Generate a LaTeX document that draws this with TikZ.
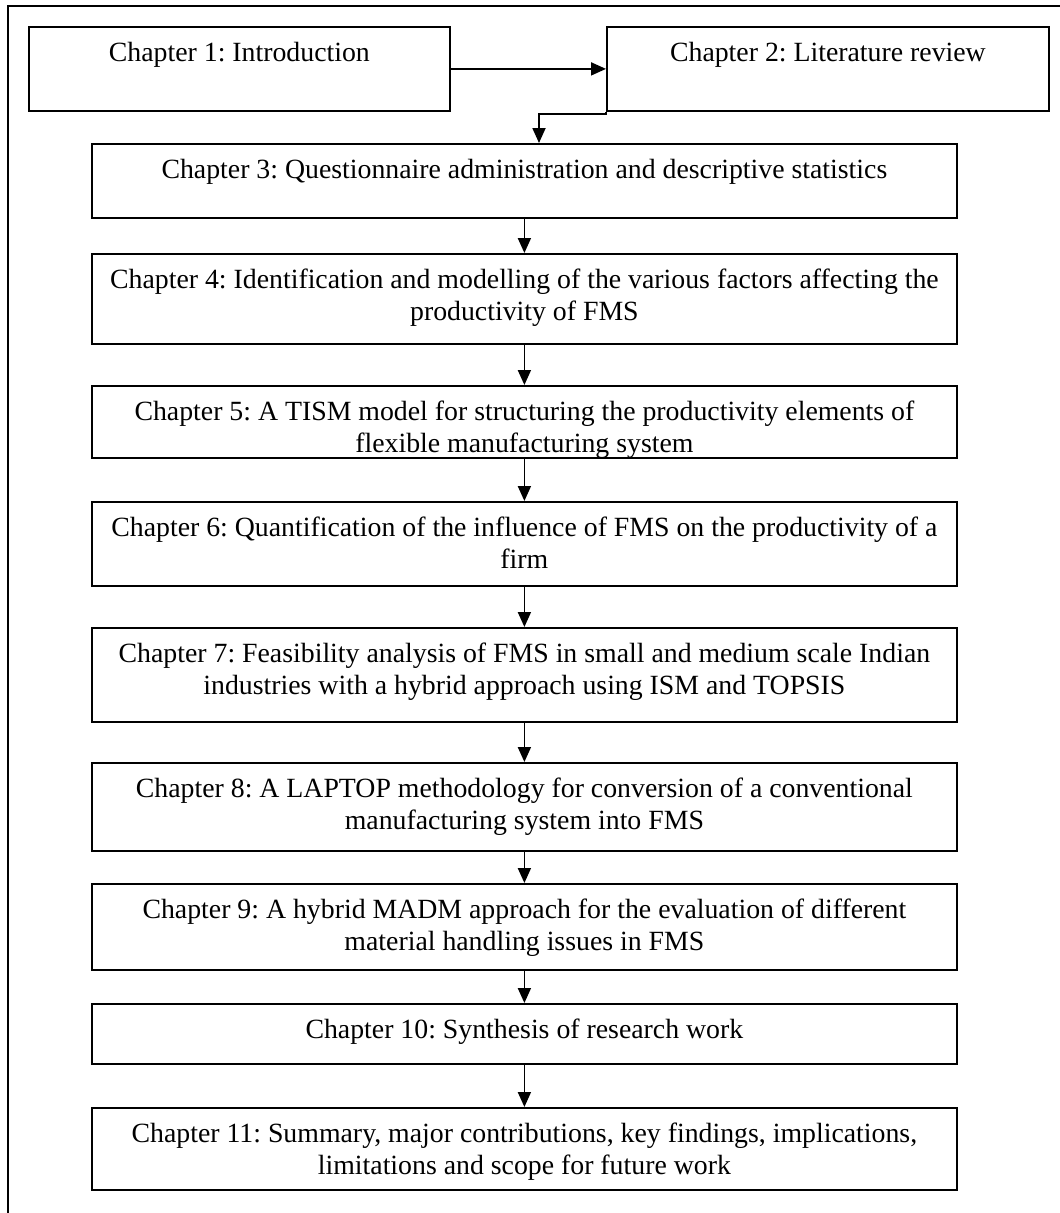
\documentclass[tikz,border=0pt]{standalone}
\usepackage{fontspec}
\setmainfont{Liberation Serif}
\usetikzlibrary{arrows.meta}

% Chapter box: name, left, top, right, bottom, text (top-aligned, centred lines)
\newcommand\chapbox[6]{%
  \node[chbox] (#1) at (#2,#3)
    {\parbox[c][\dimexpr #5pt-#3pt\relax][t]{\dimexpr #4pt-#2pt\relax}%
      {\centering\frenchspacing\rule{0pt}{35pt}#6\par}};}

\begin{document}
\begin{tikzpicture}[x=1pt,y=-1pt,
    chbox/.style={draw=black, line width=1.8pt, inner sep=0pt, anchor=north west,
      font=\fontsize{27.8}{32}\selectfont},
    arr/.style={line width=1.8pt, -{Triangle[length=15pt,width=13pt]}},
    frame/.style={line width=2pt}]
  \useasboundingbox (0,0) rectangle (1060,1213);

  % open frame: top and left sides only
  \draw[frame] (1060,6) -- (8,6) -- (8,1213);

  \chapbox{c1}{28}{26}{449}{110}{Chapter 1: Introduction}
  \chapbox{c2}{606}{26}{1048}{110}{Chapter 2: Literature review}
  \chapbox{c3}{91}{143}{956}{217}{Chapter 3: Questionnaire administration and descriptive statistics}
  \chapbox{c4}{91}{253}{956}{343}{Chapter 4: Identification and modelling of the various factors affecting the\\productivity of FMS}
  \chapbox{c5}{91}{385}{956}{457}{Chapter 5: A TISM model for structuring the productivity elements of\\flexible manufacturing system}
  \chapbox{c6}{91}{501}{956}{585}{Chapter 6: Quantification of the influence of FMS on the productivity of a\\firm}
  \chapbox{c7}{91}{627}{956}{721}{Chapter 7: Feasibility analysis of FMS in small and medium scale Indian\\industries with a hybrid approach using ISM and TOPSIS}
  \chapbox{c8}{91}{762}{956}{850}{Chapter 8: A LAPTOP methodology for conversion of a conventional\\manufacturing system into FMS}
  \chapbox{c9}{91}{883}{956}{969}{Chapter 9: A hybrid MADM approach for the evaluation of different\\material handling issues in FMS}
  \chapbox{c10}{91}{1003}{956}{1063}{Chapter 10: Synthesis of research work}
  \chapbox{c11}{91}{1107}{956}{1189}{Chapter 11: Summary, major contributions, key findings, implications,\\limitations and scope for future work}

  % connectors
  \draw[arr] (c1.east) -- (c2.west);
  \coordinate (k) at (539,114);
  \draw[arr] (c2.south west) |- (k) -- (k |- c3.north);
  \draw[arr] (c3.south) -- (c4.north);
  \draw[arr] (c4.south) -- (c5.north);
  \draw[arr] (c5.south) -- (c6.north);
  \draw[arr] (c6.south) -- (c7.north);
  \draw[arr] (c7.south) -- (c8.north);
  \draw[arr] (c8.south) -- (c9.north);
  \draw[arr] (c9.south) -- (c10.north);
  \draw[arr] (c10.south) -- (c11.north);
\end{tikzpicture}
\end{document}
